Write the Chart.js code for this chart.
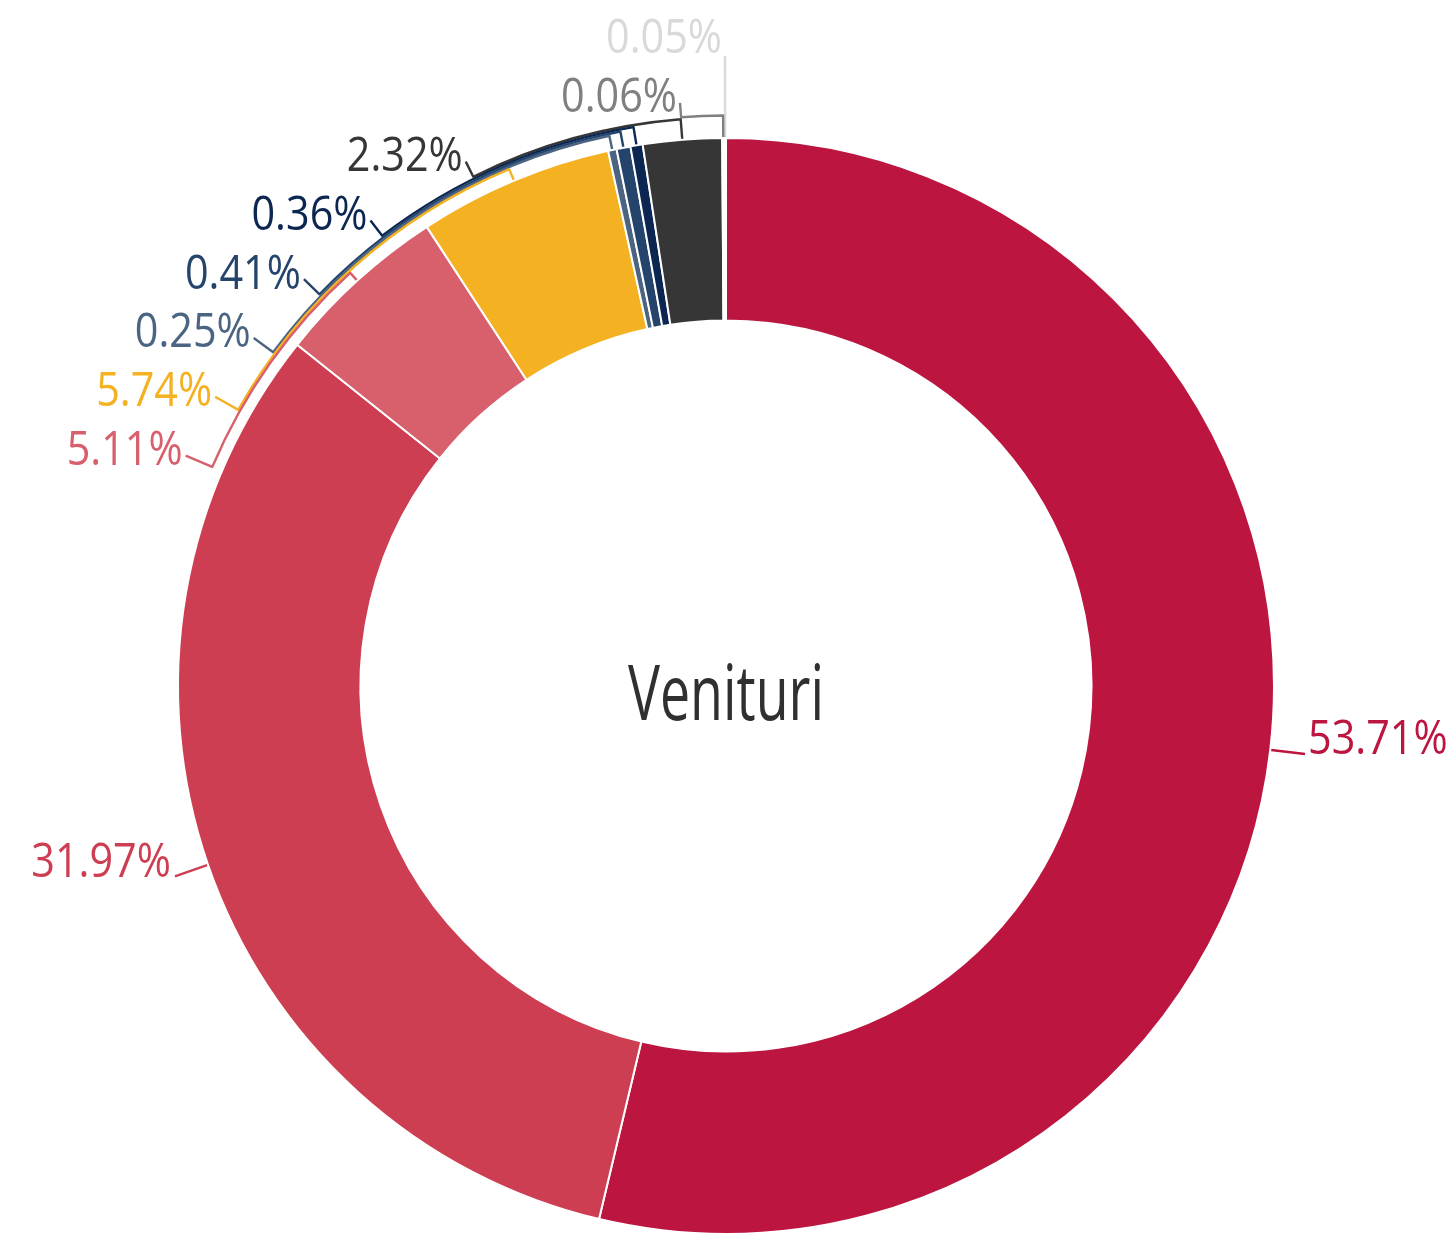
<!DOCTYPE html>
<html>
<head>
<meta charset="utf-8">
<script src="https://cdn.jsdelivr.net/npm/chart.js@4.4.0/dist/chart.umd.min.js"></script>
<style>
html,body{margin:0;padding:0;background:#ffffff;}
#wrap{width:1453px;height:1235px;position:relative;}
</style>
</head>
<body>
<div id="wrap"><canvas id="c"></canvas></div>
<script>
// ---- data ----
const categories = ['Segment 1','Segment 2','Segment 3','Segment 4','Segment 5','Segment 6','Segment 7','Segment 8','Segment 9','Segment 10'];
const values = [53.71, 31.97, 5.11, 5.74, 0.25, 0.41, 0.36, 2.32, 0.06, 0.05];
const valueLabels = ['53.71%','31.97%','5.11%','5.74%','0.25%','0.41%','0.36%','2.32%','0.06%','0.05%'];
const colors = ['#BB1540','#CE3E52','#D85F6C','#F4B223','#4B6482','#25446C','#0B2651','#363636','#808080','#D9D9D9'];
const centerTitle = 'Venituri';

const LABEL_FONT = '47px "Open Sans", "Noto Sans", sans-serif';
const LABEL_SCALE = 0.88;

function drawScaledText(ctx, text, x, y, align, scale) {
  ctx.save();
  ctx.translate(x, y);
  ctx.scale(scale, 1);
  ctx.textAlign = align;
  ctx.fillText(text, 0, 0);
  ctx.restore();
}

const outLabels = {
  id: 'outLabels',
  afterDatasetsDraw(chart) {
    const ctx = chart.ctx;
    const arcs = chart.getDatasetMeta(0).data;
    const cx = arcs[0].x, cy = arcs[0].y, R = arcs[0].outerRadius;
    const RL = R + 41;      // label circle for stacked labels
    const RN = R + 35;      // label circle for natural labels
    const items = arcs.map((a, i) => {
      const mid = (a.startAngle + a.endAngle) / 2;
      let clock = mid + Math.PI / 2;
      clock = ((clock % (2 * Math.PI)) + 2 * Math.PI) % (2 * Math.PI);
      return { i, mid, clock, left: clock > Math.PI,
        ny: cy + RL * Math.sin(mid) };
    });
    const left = items.filter(it => it.left).sort((a, b) => b.clock - a.clock);
    const topY = 40, gap = 58.8;
    // labels are stacked from the top edge down to the last one that would collide
    let lastStacked = -1;
    left.forEach((it, k) => { if (it.ny < topY + k * gap) lastStacked = k; });
    const stacked = [];
    left.forEach((it, k) => {
      if (k <= lastStacked) { it.y = topY + k * gap; it.stacked = true; stacked.push(it); }
      else it.stacked = false;
    });

    ctx.save();
    ctx.font = LABEL_FONT;
    ctx.textBaseline = 'middle';
    ctx.lineWidth = 2.4;
    ctx.lineJoin = 'round';

    // stacked labels with arc leader lines
    const n = stacked.length;
    stacked.forEach((it, k) => {
      const off = 10.5 + 2 * (n - 1 - k);
      const dy = it.y - cy;
      const ax = Math.abs(dy) < RL ? cx - Math.sqrt(RL * RL - dy * dy) : cx - 1;
      const ey = it.y + (Math.abs(dy) < RL ? 4 : 16);
      let endAng = Math.atan2(ey - cy, ax - cx);
      if (endAng < it.mid - Math.PI) endAng += 2 * Math.PI;
      const col = colors[it.i];
      ctx.strokeStyle = col;
      ctx.beginPath();
      ctx.moveTo(cx + (R + 1) * Math.cos(it.mid), cy + (R + 1) * Math.sin(it.mid));
      ctx.lineTo(cx + (R + off) * Math.cos(it.mid), cy + (R + off) * Math.sin(it.mid));
      ctx.arc(cx, cy, R + off, it.mid, endAng, endAng < it.mid);
      ctx.lineTo(ax, ey);
      ctx.stroke();
      ctx.fillStyle = col;
      drawScaledText(ctx, valueLabels[it.i], ax - 3, it.y, 'right', LABEL_SCALE);
    });

    // natural labels with straight leaders
    items.filter(it => !it.stacked).forEach(it => {
      const col = colors[it.i];
      const sx = cx + (R + 1) * Math.cos(it.mid), sy = cy + (R + 1) * Math.sin(it.mid);
      const ex = cx + RN * Math.cos(it.mid), ey = cy + RN * Math.sin(it.mid);
      ctx.strokeStyle = col;
      ctx.beginPath();
      ctx.moveTo(sx, sy);
      ctx.lineTo(ex, ey);
      ctx.stroke();
      ctx.fillStyle = col;
      if (it.left) drawScaledText(ctx, valueLabels[it.i], ex - 4, ey - 13, 'right', LABEL_SCALE);
      else drawScaledText(ctx, valueLabels[it.i], ex + 3, ey - 13, 'left', LABEL_SCALE);
    });

    // center title
    ctx.fillStyle = '#303030';
    ctx.font = '76px "Liberation Sans Narrow", "Open Sans", sans-serif';
    const w = ctx.measureText(centerTitle).width;
    const sc = Math.min(1, 196 / w);
    drawScaledText(ctx, centerTitle, cx, cy + 12, 'center', sc);
    ctx.restore();
  }
};

new Chart(document.getElementById('c'), {
  type: 'doughnut',
  data: {
    labels: categories,
    datasets: [{
      data: values,
      backgroundColor: colors,
      borderColor: '#ffffff',
      borderWidth: 2
    }]
  },
  options: {
    responsive: true,
    maintainAspectRatio: false,
    animation: false,
    cutout: '66.7%',
    layout: { padding: { left: 177, right: 178, top: 137, bottom: 0 } },
    plugins: { legend: { display: false }, tooltip: { enabled: false } }
  },
  plugins: [outLabels]
});
</script>
</body>
</html>
